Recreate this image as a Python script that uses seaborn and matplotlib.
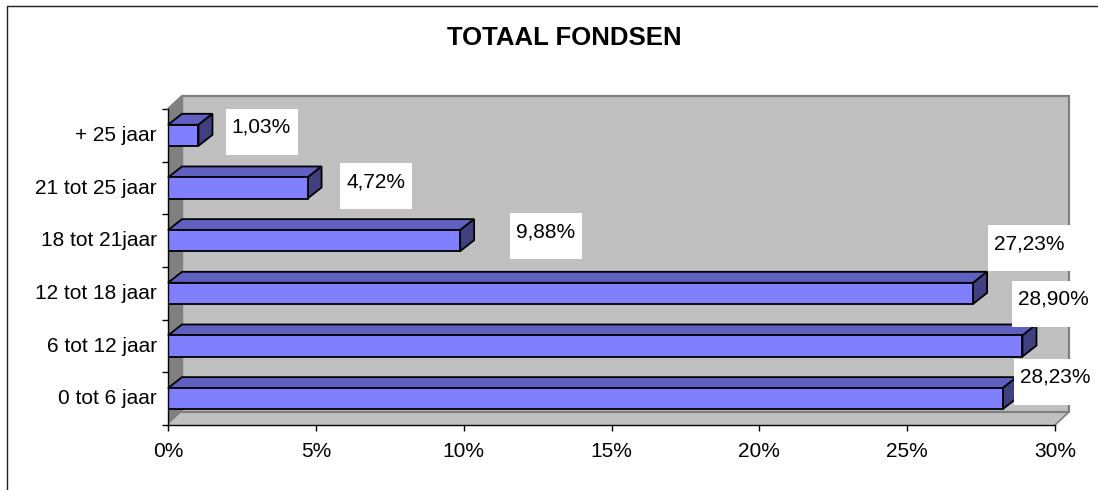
import matplotlib
matplotlib.use('Agg')
import matplotlib.pyplot as plt
from matplotlib.patches import Polygon, Rectangle
from matplotlib.transforms import ScaledTranslation
import pandas as pd
import seaborn as sns

# Data, top bar first
categories = ['+ 25 jaar', '21 tot 25 jaar', '18 tot 21jaar', '12 tot 18 jaar', '6 tot 12 jaar', '0 tot 6 jaar']
values = [1.03, 4.72, 9.88, 27.23, 28.90, 28.23]
labels = ['1,03%', '4,72%', '9,88%', '27,23%', '28,90%', '28,23%']
ticks = [0, 5, 10, 15, 20, 25, 30]
# label box corners and text centres (px)
box_left = [226, 340, 510, 988, 1012, 1014]
box_top = [109, 163, 213, 225, 281, 359]
text_x = [261, 376, 546, 1029, 1053, 1055]
text_y = [127, 182, 232, 244, 299, 377]

W, H = 1098, 490
sns.set_theme(style='white')
plt.rcParams['font.family'] = ['Liberation Sans', 'DejaVu Sans']

df = pd.DataFrame({'cat': categories, 'val': values})
fig = plt.figure(figsize=(W / 100, H / 100), dpi=100)
# plot area in pixels
left, right, top, bottom = 168, 1055, 109, 425
ax = fig.add_axes([left / W, 1 - bottom / H, (right - left) / W, (bottom - top) / H])
ax.patch.set_alpha(0)

sns.barplot(data=df, y='cat', x='val', order=categories, color='#8080FF', width=0.40,
            saturation=1, edgecolor='black', linewidth=1.3, ax=ax, zorder=5)
ax.set_xlim(0, 30)
ax.set_ylim(5.5, -0.5)
ax.set_xlabel('')
ax.set_ylabel('')

# depth of the fake 3d, in data units
px_x = 30 / (right - left)
px_y = 6 / (bottom - top)
wall_dx, wall_dy = 14 * px_x, 13 * px_y
bar_dx, bar_dy = 14 * px_x, 11 * px_y


def poly(points, face, edge='none', lw=0, z=1):
    ax.add_patch(Polygon(points, closed=True, facecolor=face, edgecolor=edge, linewidth=lw,
                         zorder=z, clip_on=False, joinstyle='miter'))


# back wall, side wall and floor
y0, y1 = 5.5, -0.5
poly([(0, y0), (wall_dx, y0 - wall_dy), (wall_dx, y1 - wall_dy), (0, y1)], '#808080')
poly([(0, y0), (30, y0), (30 + wall_dx, y0 - wall_dy), (wall_dx, y0 - wall_dy)], '#C0C0C0')
poly([(wall_dx, y0 - wall_dy), (30 + wall_dx, y0 - wall_dy), (30 + wall_dx, y1 - wall_dy), (wall_dx, y1 - wall_dy)],
     '#C0C0C0', z=0.5)
ax.plot([wall_dx, 30 + wall_dx, 30 + wall_dx], [y0 - wall_dy, y0 - wall_dy, y1 - wall_dy], color='#808080', lw=1.6,
        zorder=1.5, clip_on=False)
ax.plot([wall_dx, wall_dx], [y0 - wall_dy, y1 - wall_dy], color='#808080', lw=1, zorder=1.5, clip_on=False)
ax.plot([0, wall_dx, 30 + wall_dx], [y1, y1 - wall_dy, y1 - wall_dy], color='#808080', lw=1.6, zorder=1.5,
        clip_on=False)
ax.plot([30, 30 + wall_dx], [y0, y0 - wall_dy], color='#808080', lw=1.2, zorder=1.5, clip_on=False)

# top and end faces of the bars
for bar in ax.patches[:len(values)]:
    x = bar.get_width()
    yt, yb = bar.get_y(), bar.get_y() + bar.get_height()
    poly([(0, yt), (bar_dx, yt - bar_dy), (x + bar_dx, yt - bar_dy), (x, yt)], '#6060C0', 'black', 1.3, 4)
    poly([(x, yt), (x + bar_dx, yt - bar_dy), (x + bar_dx, yb - bar_dy), (x, yb)], '#404080', 'black', 1.3, 4)

# spines and ticks
sns.despine(ax=ax, top=True, right=True)
for s in ['left', 'bottom']:
    ax.spines[s].set_color('black')
    ax.spines[s].set_linewidth(1)
    ax.spines[s].set_zorder(6)
ax.set_xticks(ticks)
ax.set_xticklabels([f'{t}%' for t in ticks])
ax.set_yticks([i - 0.5 for i in range(7)], minor=True)
ax.tick_params(axis='y', which='major', length=0, pad=8, labelsize=15, labelcolor='black')
ax.tick_params(axis='y', which='minor', left=True, length=4.5, width=1, color='black')
ax.tick_params(axis='x', bottom=True, length=4.5, width=1, color='black', pad=8, labelsize=15, labelcolor='black')

# category labels sit a little above the bar centres
lift = ScaledTranslation(0, 2 / 100, fig.dpi_scale_trans)
for lab in ax.get_yticklabels():
    lab.set_transform(lab.get_transform() + lift)

# value labels in white boxes, written in figure pixels
for txt, bl, bt, tx, ty in zip(labels, box_left, box_top, text_x, text_y):
    box_w = 72 if len(txt) == 5 else 84
    fig.add_artist(Rectangle((bl / W, 1 - (bt + 46) / H), box_w / W, 46 / H, transform=fig.transFigure,
                             facecolor='white', edgecolor='none', zorder=9))
    fig.text(tx / W, 1 - ty / H, txt, ha='center', va='center', fontsize=15, color='black', zorder=10)

fig.text(564.5 / W, 1 - 38 / H, 'TOTAAL FONDSEN', ha='center', va='center', fontsize=18.5, fontweight='bold',
         color='black')

# outer chart frame, cut off by the picture on the right and at the bottom
fig.add_artist(plt.Line2D([6.5 / W, 6.5 / W, 1], [0, 1 - 6.5 / H, 1 - 6.5 / H], color='#202020', lw=1))

fig.savefig('out.png', dpi=100)
